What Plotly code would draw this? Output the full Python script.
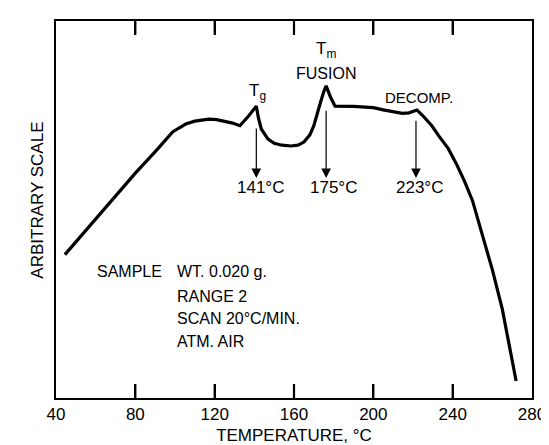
import plotly.graph_objects as go

# Temperature (°C) and arbitrary signal (arbitrary units, 0 = bottom of frame)
temperature = [44.5, 57, 69, 80, 90.5, 95, 98.8, 102, 105.4, 110, 117, 121, 125.2, 129, 132.7,
               137, 141, 142, 143.5, 146.8, 150, 154, 158.4, 162, 165, 168, 170, 172, 173.3,
               175, 176.2, 178.5, 180.7, 190, 200, 205, 210, 214.6, 218, 222, 225,
               229.5, 233, 237.8, 242, 246, 250, 255.5, 260, 265, 269, 272]
signal = [146, 175, 204, 229, 252, 262, 271, 275, 279, 282, 284, 283.5, 282, 280, 277.3,
          287, 297.3, 286, 274, 264, 259.5, 257.5, 256.7, 257.5, 260.7, 268, 277.3, 290, 300.7,
          312, 318, 306, 297.3, 297, 295.7, 293.5, 291.3, 290, 290.5, 293.3, 287.5,
          277.3, 267, 254, 238, 220.7, 201, 161, 130.7, 90.7, 47.3, 17.3]

arrow_x = [141, 176.2, 221.5]
arrow_top = [276, 294, 284]
arrow_tip = 224
arrow_labels = ["141°C", "175°C", "223°C"]
arrow_label_x = [142.9, 179.9, 223.3]

info_lines = ["RANGE 2", "SCAN 20°C/MIN.", "ATM. AIR"]
info_y = [103.3, 80.7, 57.3]

x_ticks = [40, 80, 120, 160, 200, 240, 280]

FONT = "Liberation Sans"
Y_MAX = 384
TICK_LEN = 14

fig = go.Figure()
fig.add_trace(go.Scatter(x=temperature, y=signal, mode="lines",
                         line=dict(color="black", width=3.2), hoverinfo="skip",
                         showlegend=False))

# tick marks along bottom and top borders (one short segment per tick value)
for xv in x_ticks[1:-1]:
    fig.add_trace(go.Scatter(x=[xv, xv], y=[0, TICK_LEN], mode="lines",
                             line=dict(color="black", width=2.2), hoverinfo="skip",
                             showlegend=False, cliponaxis=False))
    fig.add_trace(go.Scatter(x=[xv, xv], y=[Y_MAX - TICK_LEN, Y_MAX], mode="lines",
                             line=dict(color="black", width=2.2), hoverinfo="skip",
                             showlegend=False, cliponaxis=False))

ann = []
for xa, yt, lab, lx in zip(arrow_x, arrow_top, arrow_labels, arrow_label_x):
    ann.append(dict(x=xa, y=arrow_tip, ax=xa, ay=yt, xref="x", yref="y", axref="x", ayref="y",
                    text="", showarrow=True, arrowhead=2, arrowsize=1.6, arrowwidth=1.2,
                    arrowcolor="black"))
    ann.append(dict(x=lx, y=214, xref="x", yref="y", text=lab, showarrow=False,
                    font=dict(size=17, color="black", family=FONT)))

ann.append(dict(x=141.5, y=312, xref="x", yref="y", text="T<sub>g</sub>", showarrow=False,
                font=dict(size=17, color="black", family=FONT)))
ann.append(dict(x=176, y=341, xref="x", yref="y", text="T<sub>m</sub>", showarrow=False,
                yanchor="bottom", font=dict(size=17, color="black", family=FONT)))
ann.append(dict(x=176.1, y=331, xref="x", yref="y", text="FUSION", showarrow=False,
                font=dict(size=16, color="black", family=FONT)))
ann.append(dict(x=222.8, y=306, xref="x", yref="y", text="DECOMP.", showarrow=False,
                font=dict(size=15, color="black", family=FONT)))

ann.append(dict(x=59.7, y=128.7, xref="x", yref="y", text="SAMPLE", showarrow=False,
                xanchor="left", font=dict(size=16, color="black", family=FONT)))
ann.append(dict(x=99.9, y=128.7, xref="x", yref="y", text="WT. 0.020 g.", showarrow=False,
                xanchor="left", font=dict(size=16, color="black", family=FONT)))
for t, yy in zip(info_lines, info_y):
    ann.append(dict(x=99.9, y=yy, xref="x", yref="y", text=t, showarrow=False,
                    xanchor="left", font=dict(size=16, color="black", family=FONT)))

ann.append(dict(x=-0.062, y=0.526, xref="paper", yref="paper", text="ARBITRARY SCALE",
                textangle=-90, showarrow=False,
                font=dict(size=17, color="black", family=FONT)))

fig.update_layout(
    width=549, height=445,
    margin=dict(l=48, r=16, t=11, b=50),
    plot_bgcolor="white", paper_bgcolor="white",
    font=dict(family=FONT, color="black", size=16),
    annotations=ann,
    xaxis=dict(range=[40, 280], tickmode="array", tickvals=x_ticks,
               ticktext=[str(v) for v in x_ticks],
               ticks="inside", ticklen=TICK_LEN, tickwidth=2.2, tickcolor="#000000",
               showline=True, linecolor="black", linewidth=1.6, mirror="allticks",
               showgrid=False, zeroline=False, layer="above traces",
               tickfont=dict(size=17, family=FONT),
               title=dict(text="TEMPERATURE, °C", font=dict(size=17, family=FONT), standoff=6)),
    yaxis=dict(range=[0, Y_MAX], showticklabels=False, ticks="",
               showline=True, linecolor="black", linewidth=1.6, mirror=True,
               showgrid=False, zeroline=False),
)

fig.write_html("out.html")
